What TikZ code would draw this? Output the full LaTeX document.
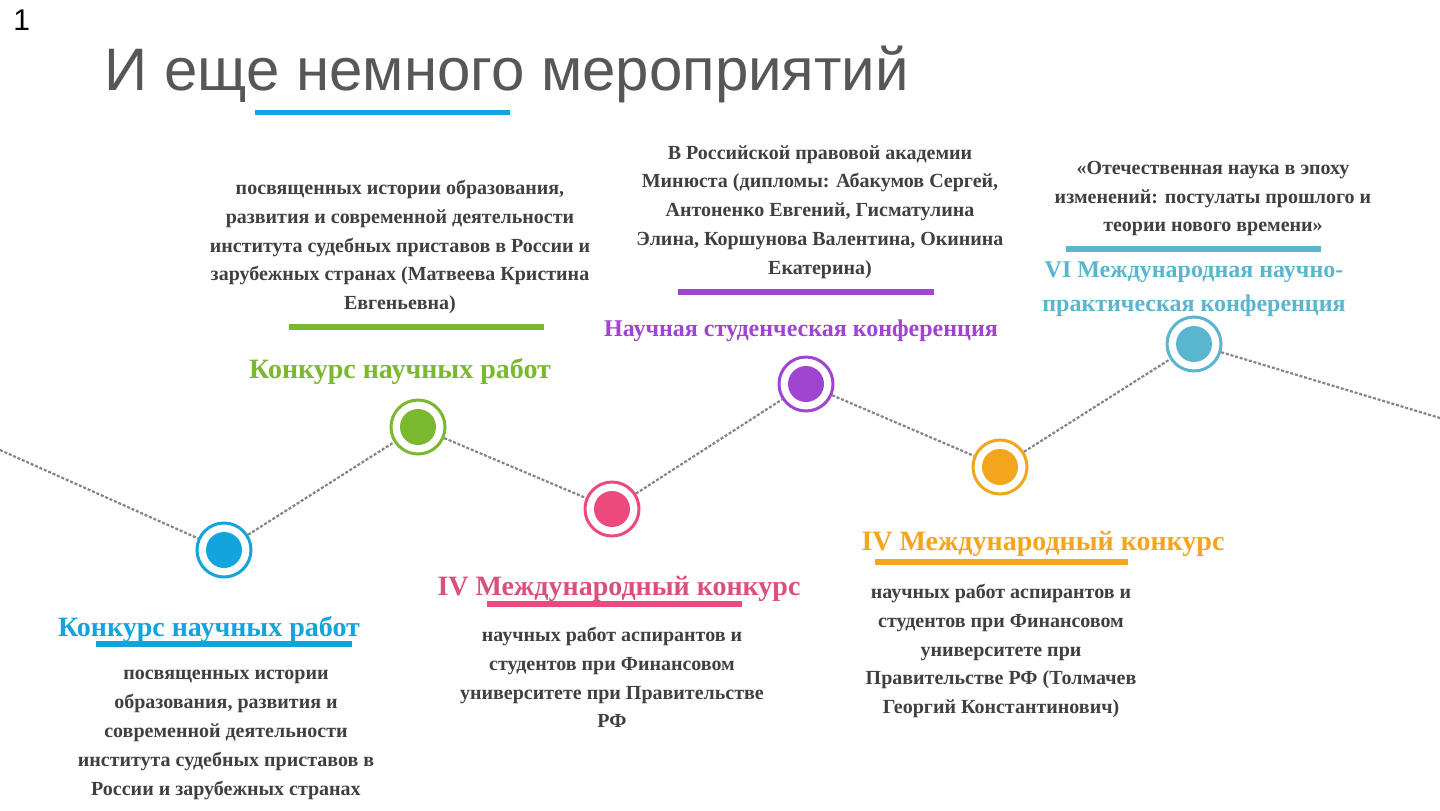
\documentclass[tikz,border=0pt]{standalone}
\usepackage{fontspec}
\setmainfont{Liberation Serif}
\newfontfamily\sansf{Liberation Sans}
\definecolor{cblue}{HTML}{12A5DB}
\definecolor{cgreen}{HTML}{7AB92F}
\definecolor{cpink}{HTML}{EC4A7C}
\definecolor{cpinkt}{HTML}{D9507A}
\definecolor{cpurple}{HTML}{A044D2}
\definecolor{corange}{HTML}{F3A51E}
\definecolor{cteal}{HTML}{5AB5CF}
\definecolor{bodygray}{HTML}{404040}
\definecolor{titlegray}{HTML}{575757}
\definecolor{linegray}{HTML}{858585}
\begin{document}
\begin{tikzpicture}[x=0.5pt,y=-0.5pt,
  ring/.style={circle, draw=#1, line width=1.5pt, fill=white, minimum size=27pt, inner sep=0pt},
  body/.style={font=\bfseries\fontsize{10}{14.4}\selectfont, text=bodygray, align=center, inner sep=0pt},
  evt/.style={font=\bfseries\fontsize{14}{17}\selectfont, text=#1, inner sep=0pt},
  evts/.style={font=\bfseries\fontsize{12}{17}\selectfont, text=#1, inner sep=0pt, align=center},
  bar/.style={line width=3pt, draw=#1},
  link/.style={draw=linegray, line width=1.1pt, dash pattern=on 1.5pt off 0.9pt}]
\useasboundingbox (0,0) rectangle (1440,810);
\fill[white] (0,0) rectangle (1440,810);
% page number and title
\node[anchor=base west, inner sep=0pt, font=\sansf\fontsize{15}{17}\selectfont] (num) at (13,30) {1};
\node[anchor=base west, inner sep=0pt, text=titlegray, font=\sansf\fontsize{30}{34}\selectfont] (title) at (104,90) {И еще немного мероприятий};
\draw[bar=cblue, line width=2.5pt] (255,112) -- (510,112);
% timeline nodes
\coordinate (L) at (0,450);
\coordinate (R) at (1440,418);
\node[ring=cblue] (c1) at (224,550) {};
\node[ring=cgreen] (c2) at (418,427) {};
\node[ring=cpink] (c3) at (612,509) {};
\node[ring=cpurple] (c4) at (806,384) {};
\node[ring=corange] (c5) at (1000,467) {};
\node[ring=cteal] (c6) at (1194,344) {};
\fill[cblue] (c1) circle (18);
\fill[cgreen] (c2) circle (18);
\fill[cpink] (c3) circle (18);
\fill[cpurple] (c4) circle (18);
\fill[corange] (c5) circle (18);
\fill[cteal] (c6) circle (18);
\draw[link] (L) -- (c1);
\draw[link] (c1) -- (c2);
\draw[link] (c2) -- (c3);
\draw[link] (c3) -- (c4);
\draw[link] (c4) -- (c5);
\draw[link] (c5) -- (c6);
\draw[link] (c6) -- (R);
% green
\node[body] (gb) at (400,247) {посвященных истории образования,\\развития и современной деятельности\\института судебных приставов в России и\\зарубежных странах (Матвеева Кристина\\Евгеньевна)};
\draw[bar=cgreen] (289,327) -- (544,327);
\node[evt=cgreen, anchor=base] (gt) at (400,378) {Конкурс научных работ};
% purple
\node[body] (pb) at (820,212) {В Российской правовой академии\\Минюста (дипломы: Абакумов Сергей,\\Антоненко Евгений, Гисматулина\\Элина, Коршунова Валентина, Окинина\\Екатерина)};
\draw[bar=cpurple] (678,292) -- (934,292);
\node[evts=cpurple, anchor=base] (pt) at (801,336) {Научная студенческая конференция};
% teal
\node[body] (tb) at (1213,198.5) {«Отечественная наука в эпоху\\изменений: постулаты прошлого и\\теории нового времени»};
\draw[bar=cteal] (1066,249) -- (1321,249);
\node[evts=cteal] (tt) at (1194,289.5) {VI Международная научно-\\практическая конференция};
% blue
\node[evt=cblue, anchor=base] (bt) at (209,636) {Конкурс научных работ};
\draw[bar=cblue] (96,644) -- (352,644);
\node[body] (bb) at (226,735) {посвященных истории\\образования, развития и\\современной деятельности\\института судебных приставов в\\России и зарубежных странах};
% pink
\node[evt=cpinkt, anchor=base] (kt) at (619,595) {IV Международный конкурс};
\draw[bar=cpink] (487,604) -- (742,604);
\node[body] (kb) at (612,677.5) {научных работ аспирантов и\\студентов при Финансовом\\университете при Правительстве\\РФ};
% orange
\node[evt=corange, anchor=base] (ot) at (1043,550) {IV Международный конкурс};
\draw[bar=corange] (875,562) -- (1128,562);
\node[body] (ob) at (1001,651) {научных работ аспирантов и\\студентов при Финансовом\\университете при\\Правительстве РФ (Толмачев\\Георгий Константинович)};
\end{tikzpicture}
\end{document}
